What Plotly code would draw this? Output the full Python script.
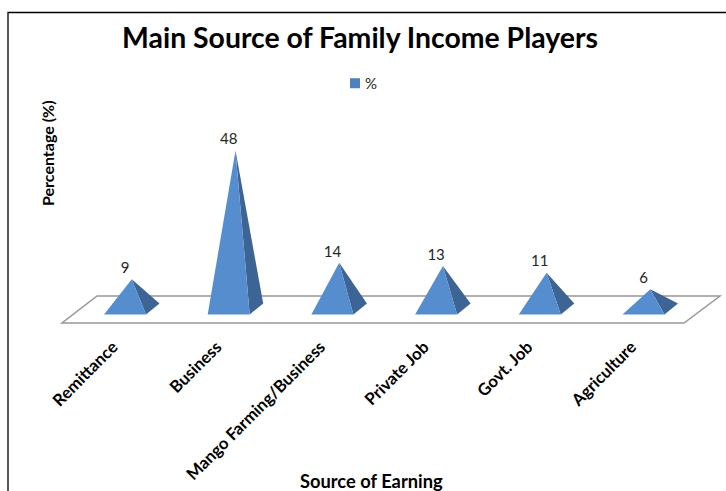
import plotly.graph_objects as go

categories = ["Remittance", "Business", "Mango Farming/Business", "Private Job", "Govt. Job", "Agriculture"]
values = [9, 48, 14, 13, 11, 6]
value_labels = ["9", "48", "14", "13", "11", "6"]
series_name = "%"
title_text = "Main Source of Family Income Players"
x_title = "Source of Earning"
y_title = "Percentage (%)"

W, H = 726, 491
TOP, BOTTOM = 100, 326
X0_PX, STEP_PX = 125.0, 103.7
Y0_PX, UNIT_PX = 309.0, 3.3
FONT = "Lato"


def ux(px):
    return px / STEP_PX


def uy(px):
    return px / UNIT_PX


def fx(px):
    return (px - X0_PX) / STEP_PX


def fy(py):
    return (Y0_PX - py) / UNIT_PX


def px_(px):
    return px / W


def py_(py):
    return (BOTTOM - py) / (BOTTOM - TOP)


half, depth, apex_dx, base_dy = ux(21), ux(13.5), ux(6.8), uy(5.5)
fig = go.Figure()

for i, v in enumerate(values):
    fig.add_trace(go.Scatter(
        x=[i + half, i + half + depth, i + apex_dx, i + half],
        y=[-base_dy, base_dy, v, -base_dy],
        mode="lines", fill="toself", fillcolor="#3c6494",
        line=dict(width=0), showlegend=False, hoverinfo="skip"))
    fig.add_trace(go.Scatter(
        x=[i - half, i + half, i + apex_dx, i - half],
        y=[-base_dy, -base_dy, v, -base_dy],
        mode="lines", fill="toself", fillcolor="#568dcf",
        line=dict(width=0), showlegend=False, hoverinfo="skip"))

fig.add_trace(go.Scatter(
    x=list(range(len(values))), y=[v + uy(10) for v in values],
    mode="text", text=value_labels, textposition="middle center",
    textfont=dict(family=FONT, size=15, color="#262626"),
    showlegend=False, hoverinfo="skip"))

fig.add_trace(go.Scatter(
    x=[None], y=[None], mode="markers", name=series_name,
    marker=dict(symbol="square", size=10, color="#4f81bd")))

fig.update_layout(
    width=W, height=H, paper_bgcolor="white", plot_bgcolor="rgba(0,0,0,0)",
    margin=dict(l=0, r=0, t=TOP, b=H - BOTTOM, autoexpand=False),
    hovermode=False,
    title=dict(text=title_text, x=360 / W, y=1 - 38 / H, xanchor="center", yanchor="middle",
               font=dict(family=FONT, size=28.4, color="black", weight="bold")),
    legend=dict(x=px_(335), y=py_(83.5), xanchor="left", yanchor="middle", bgcolor="rgba(0,0,0,0)",
                font=dict(family=FONT, size=15, color="#262626")),
    xaxis=dict(range=[fx(0), fx(W)], tickmode="array", tickvals=list(range(len(categories))),
               ticktext=categories, tickangle=-45, ticks="", showgrid=False, zeroline=False,
               showline=False, tickfont=dict(family=FONT, size=16.7, color="black", weight="bold"),
               ticklabelstandoff=7, ticklabelshift=-12, automargin=False),
    yaxis=dict(range=[fy(BOTTOM), fy(TOP)], visible=False, automargin=False),
    shapes=[
        dict(type="path", xref="x", yref="y", layer="below",
             path=f"M {fx(62)} {fy(323)} L {fx(684)} {fy(323)} L {fx(720)} {fy(296)} L {fx(97)} {fy(296)} Z",
             line=dict(color="#989898", width=1.5), fillcolor="white"),
        dict(type="rect", xref="paper", yref="paper", x0=px_(8), y0=py_(12.5), x1=1.05, y1=-1.0,
             line=dict(color="black", width=1.3), fillcolor="rgba(0,0,0,0)", layer="below"),
    ],
    annotations=[
        dict(text=y_title, xref="paper", yref="paper", x=px_(48), y=py_(153), showarrow=False,
             textangle=-90, xanchor="center", yanchor="middle", xshift=-1,
             font=dict(family=FONT, size=16, color="black", weight="bold")),
        dict(text=x_title, xref="paper", yref="paper", x=px_(372), y=py_(481), showarrow=False,
             xanchor="center", yanchor="middle",
             font=dict(family=FONT, size=18.3, color="black", weight="bold")),
    ],
)

post = """
document.body.style.margin = '0';
document.querySelectorAll('.legendtext').forEach(function (t) {
  t.setAttribute('x', parseFloat(t.getAttribute('x')) - 10);
});
"""
fig.write_html("out.html", post_script=post, config={"displayModeBar": False})
